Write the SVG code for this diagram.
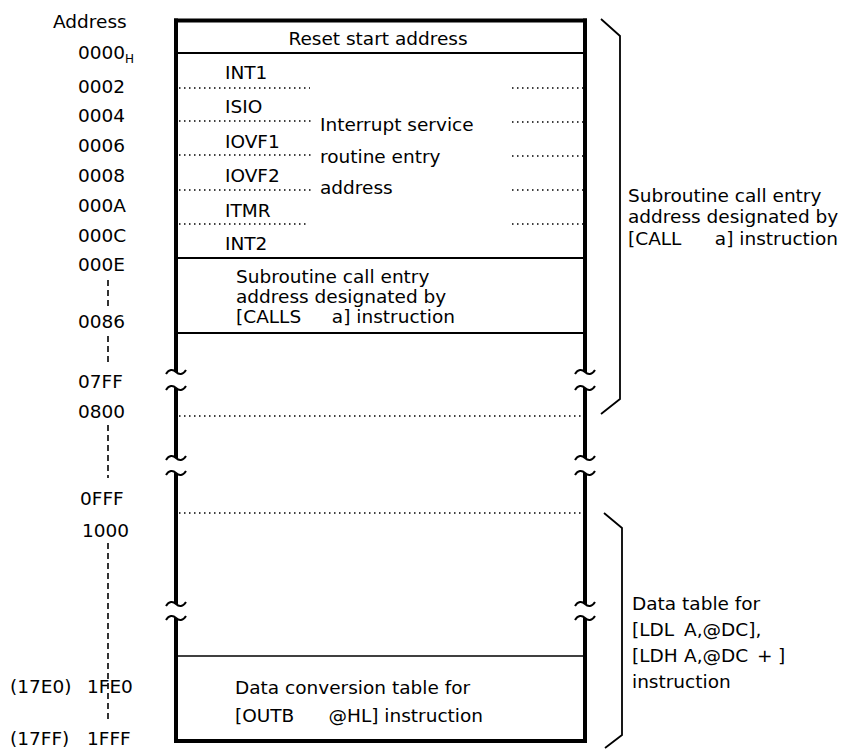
<svg xmlns="http://www.w3.org/2000/svg" width="844" height="749" viewBox="0 0 844 749">
<style>
text{font-family:"DejaVu Sans","Liberation Sans",sans-serif;font-size:18.5px;fill:#000}
.mid{text-anchor:middle}
.end{text-anchor:end}
.thick{stroke:#000;stroke-width:4;fill:none}
.thin{stroke:#000;stroke-width:2;fill:none}
.dot{stroke:#000;stroke-width:1.5;stroke-dasharray:1.5 3.5;fill:none}
.dash{stroke:#000;stroke-width:1.6;stroke-dasharray:6 4;fill:none}
.brk{stroke:#000;stroke-width:2;fill:none}
.brace{stroke:#000;stroke-width:1.8;fill:none}
</style>
<defs>
<path id="tl" d="M-10,2 C-7,-3 -3,-3 0,0 S7,3 10,-2"/>
</defs>
<rect width="844" height="749" fill="#fff"/>
<g id="addresses">
<text x="53" y="28">Address</text>
<text x="78" y="59">0000<tspan font-size="12" dy="4">H</tspan></text>
<text x="78" y="93">0002</text>
<text x="78" y="122">0004</text>
<text x="78" y="152">0006</text>
<text x="78" y="182">0008</text>
<text x="78" y="212">000A</text>
<text x="78" y="242">000C</text>
<text x="78" y="271">000E</text>
<text x="78" y="328">0086</text>
<text x="78" y="388">07FF</text>
<text x="78" y="418">0800</text>
<text x="80" y="505">0FFF</text>
<text x="82" y="537">1000</text>
<text x="10" y="693">(17E0)</text>
<text x="87" y="693">1FE0</text>
<text x="10" y="745">(17FF)</text>
<text x="87" y="745">1FFF</text>
<path class="dash" d="M108,280V307 M108,336V366 M108,425V478 M108,543V723"/>
</g>
<g id="frame">
<path class="thick" d="M174,20.5H587 M174,741H587"/>
<path class="thick" d="M176,18.5V372 M176,388V458 M176,473V604 M176,618V743"/>
<path class="thick" d="M585,18.5V372 M585,388V458 M585,473V604 M585,618V743"/>
<use href="#tl" x="176" y="372" class="brk"/>
<use href="#tl" x="176" y="388" class="brk"/>
<use href="#tl" x="176" y="458" class="brk"/>
<use href="#tl" x="176" y="473" class="brk"/>
<use href="#tl" x="176" y="604" class="brk"/>
<use href="#tl" x="176" y="618" class="brk"/>
<use href="#tl" x="585" y="372" class="brk"/>
<use href="#tl" x="585" y="388" class="brk"/>
<use href="#tl" x="585" y="458" class="brk"/>
<use href="#tl" x="585" y="473" class="brk"/>
<use href="#tl" x="585" y="604" class="brk"/>
<use href="#tl" x="585" y="618" class="brk"/>
</g>
<g id="reset">
<text x="378" y="45" class="mid">Reset start address</text>
<path class="thin" d="M178,53H583"/>
</g>
<g id="interrupts">
<text x="225" y="79">INT1</text>
<text x="225" y="113">ISIO</text>
<text x="225" y="148">IOVF1</text>
<text x="225" y="182">IOVF2</text>
<text x="225" y="217">ITMR</text>
<text x="225" y="250">INT2</text>
<text x="320" y="131">Interrupt service</text>
<text x="320" y="163">routine entry</text>
<text x="320" y="194">address</text>
<path class="dot" d="M179,88H310 M179,121H314 M179,155H314 M179,190H314 M179,224H307"/>
<path class="dot" d="M512,88H583 M512,122H583 M512,156H583 M512,190H583 M512,224H583"/>
<path class="thin" d="M178,258H583"/>
</g>
<g id="calls">
<text x="236" y="283">Subroutine call entry</text>
<text x="236" y="303">address designated by</text>
<text x="236" y="323">[CALLS</text>
<text x="455" y="323" class="end">a] instruction</text>
<path class="thin" d="M178,333H583"/>
</g>
<g id="region-0800">
<path class="dot" d="M179,416H583"/>
</g>
<g id="region-1000">
<path class="dot" d="M179,513H583"/>
<path class="thin" d="M178,656H583" style="stroke-width:1.6"/>
</g>
<g id="conversion">
<text x="235" y="694">Data conversion table for</text>
<text x="235" y="722">[OUTB</text>
<text x="483" y="722" class="end">@HL] instruction</text>
</g>
<g id="connectors">
<polyline class="brace" points="601,19 620,36 620,399 601,414"/>
<polyline class="brace" points="604,513 622,528 622,735 605,748"/>
</g>
<g id="call-note">
<text x="628" y="202">Subroutine call entry</text>
<text x="628" y="223">address designated by</text>
<text x="628" y="245">[CALL</text>
<text x="838" y="245" class="end">a] instruction</text>
</g>
<g id="table-note">
<text x="632" y="610">Data table for</text>
<text x="632" y="636">[LDL</text>
<text x="684" y="636">A,@DC],</text>
<text x="632" y="662">[LDH</text>
<text x="684" y="662">A,@DC</text>
<text x="757" y="662">+</text>
<text x="778" y="662">]</text>
<text x="632" y="688">instruction</text>
</g>
</svg>
